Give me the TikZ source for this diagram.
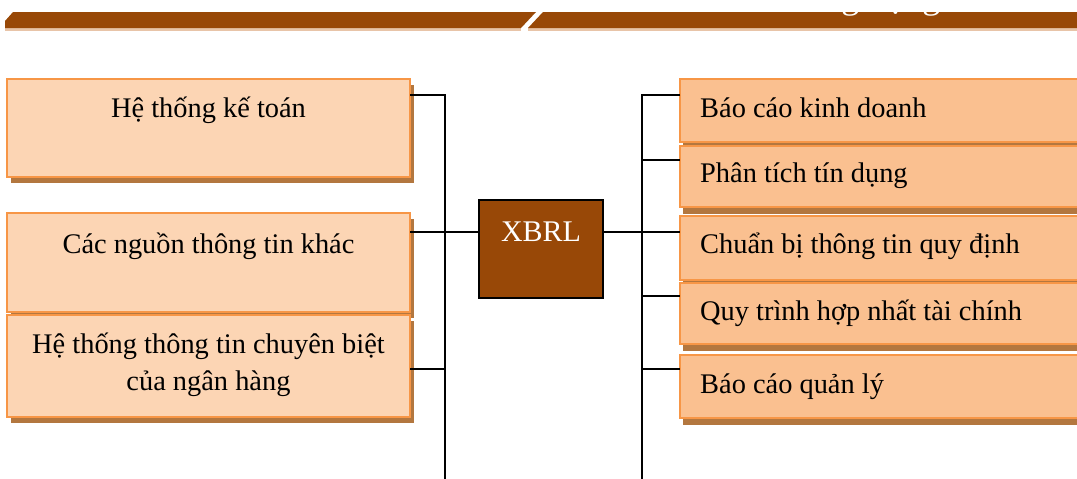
\documentclass[tikz,border=0pt]{standalone}
\usepackage{fontspec}
\setmainfont{Liberation Serif}
\usetikzlibrary{shadows}
\definecolor{barc}{HTML}{984807}
\definecolor{barline}{HTML}{E8C4A8}
\definecolor{leftfill}{HTML}{FCD5B4}
\definecolor{rightfill}{HTML}{FAC090}
\definecolor{borderc}{HTML}{F79646}
\definecolor{shadowc}{HTML}{B3773F}
\begin{document}
\begin{tikzpicture}[x=1pt,y=-1pt,
  lbox/.style={draw=borderc, line width=2.4pt, fill=leftfill, inner sep=0pt, outer sep=0pt,
    minimum width=403pt, anchor=north west,
    general shadow={fill=shadowc, shadow xshift=4pt, shadow yshift=-5.5pt}},
  rbox/.style={draw=borderc, line width=2.4pt, fill=rightfill, inner sep=0pt, outer sep=0pt,
    minimum width=420pt, anchor=north west,
    general shadow={fill=shadowc, shadow xshift=3pt, shadow yshift=-7pt}},
  xbox/.style={draw=black, line width=1.6pt, fill=barc, inner sep=0pt, outer sep=0pt,
    minimum width=124pt, minimum height=98pt, anchor=north west},
  txt/.style={font=\fontsize{28.4}{37}\selectfont, inner sep=0pt, text=black},
  conn/.style={draw=black, line width=2pt}]
\clip (0,0) rectangle (1077,479);
% top bar
\fill[barline] (5,28) rectangle (521,30.5);
\fill[barline] (528,28) rectangle (1080,30.5);
\fill[barc] (5,28) -- (5,21) -- (13,12) -- (536,12) -- (521,28) -- cycle;
\fill[barc] (528,28) -- (543,12) -- (1080,12) -- (1080,28) -- cycle;
\node[anchor=base west, inner sep=0pt, text=white, font=\fontsize{36}{40}\selectfont] (title) at (803.6,9) {ứng dụng};
% left boxes
\node[lbox, minimum height=98pt] (l1) at (7,79) {};
\node[lbox, minimum height=99pt] (l2) at (7,213) {};
\node[lbox, minimum height=102pt] (l3) at (7,315) {};
\node[txt, anchor=base] (t1) at (208.5,117) {Hệ thống kế toán};
\node[txt, anchor=base] (t2) at (208.5,253) {Các nguồn thông tin khác};
\node[txt, anchor=base, align=center] (t3) at (208.5,390) {Hệ thống thông tin chuyên biệt\\của ngân hàng};
% right boxes
\node[rbox, minimum height=63pt] (r1) at (680,79) {};
\node[rbox, minimum height=61pt] (r2) at (680,146) {};
\node[rbox, minimum height=64pt] (r3) at (680,216) {};
\node[rbox, minimum height=61pt] (r4) at (680,283) {};
\node[rbox, minimum height=63pt] (r5) at (680,355) {};
\node[txt, anchor=base west] (s1) at (700,117) {Báo cáo kinh doanh};
\node[txt, anchor=base west] (s2) at (700,182) {Phân tích tín dụng};
\node[txt, anchor=base west] (s3) at (700,253) {Chuẩn bị thông tin quy định};
\node[txt, anchor=base west] (s4) at (700,320) {Quy trình hợp nhất tài chính};
\node[txt, anchor=base west] (s5) at (700,393) {Báo cáo quản lý};
% XBRL
\node[xbox] (x) at (479,200) {};
\node[anchor=base, inner sep=0pt, text=white, font=\fontsize{30}{36}\selectfont] (xt) at (x.north |- 0,241) {XBRL};
% connector coordinates
\coordinate (lt) at (445,95);
\coordinate (lbot) at (445,481);
\coordinate (rt) at (642,95);
\coordinate (rbot) at (642,481);
\coordinate (ym) at (0,232);
\coordinate (y3) at (0,369);
\coordinate (y2) at (0,160);
\coordinate (y4) at (0,296);
% left connectors
\draw[conn] (l1.east |- lt) -- (lt) -- (lbot);
\draw[conn] (l2.east |- ym) -- (x.west |- ym);
\draw[conn] (l3.east |- y3) -- (lt |- y3);
% right connectors
\draw[conn] (r1.west |- rt) -- (rt) -- (rbot);
\draw[conn] (rt |- y2) -- (r2.west |- y2);
\draw[conn] (x.east |- ym) -- (r3.west |- ym);
\draw[conn] (rt |- y4) -- (r4.west |- y4);
\draw[conn] (rt |- y3) -- (r5.west |- y3);
\end{tikzpicture}
\end{document}
